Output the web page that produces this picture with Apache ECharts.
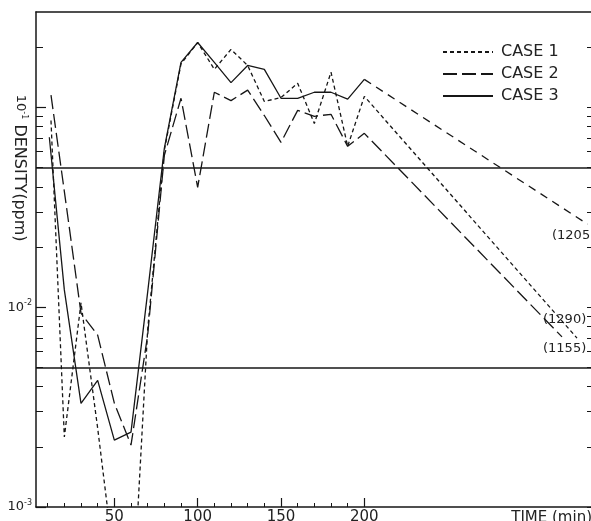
<!DOCTYPE html>
<html>
<head>
<meta charset="utf-8">
<script src="https://cdn.jsdelivr.net/npm/echarts@6/dist/echarts.min.js"></script>
<style>
html, body { margin: 0; padding: 0; background: #fff; }
#chart { width: 591px; height: 521px; }
</style>
</head>
<body>
<div id="chart"></div>
<script>
// time axis is broken after 200 min: the last points sit at the right edge
let case1Time = [12, 20, 30, 40, 50, 60, 70, 80, 90, 100, 110, 120, 130, 140, 150, 160, 170, 180, 190, 200, 327.6];
let case1Val = [0.086, 0.00224, 0.0105, 0.00248, 0.00052, 0.00023, 0.0077, 0.061, 0.165, 0.211, 0.155, 0.195, 0.162, 0.107, 0.112, 0.132, 0.083, 0.150, 0.0638, 0.1135, 0.0070];

let case2Time = [12, 20, 30, 40, 50, 60, 70, 80, 90, 100, 110, 120, 130, 140, 150, 160, 170, 180, 190, 200, 318.6];
let case2Val = [0.115, 0.038, 0.00933, 0.00724, 0.00331, 0.00204, 0.00724, 0.0575, 0.111, 0.0398, 0.119, 0.108, 0.122, 0.091, 0.0668, 0.0966, 0.0902, 0.0923, 0.0638, 0.0741, 0.0071];

let case3Time = [11, 20, 30, 40, 50, 60, 70, 80, 90, 100, 110, 120, 130, 140, 150, 160, 170, 180, 190, 200];
let case3Val = [0.0708, 0.0122, 0.0033, 0.0043, 0.00216, 0.00237, 0.0119, 0.0624, 0.168, 0.211, 0.168, 0.133, 0.162, 0.155, 0.111, 0.111, 0.119, 0.119, 0.110, 0.138];
// case 3 after 200 min (drawn dashed)
let case3ExtTime = [200, 334];
let case3ExtVal = [0.138, 0.026];

let endLabels = ['(1205)', '(1290)', '(1155)'];
let refLevels = [0.05, 0.005];

let xMajor = [50, 100, 150, 200];
let xMinor = [10, 20, 30, 40, 60, 70, 80, 90, 110, 120, 130, 140, 160, 170, 180, 190];
let yDecades = [0.001, 0.01, 0.1];
let yMinorSteps = [2, 3, 4, 5, 6, 7, 8, 9];

let xMin = 3, xMax = 336.6;
let yMin = 0.001, yMax = 0.3;

function pairs(t, v) {
    return t.map(function (x, i) { return [x, v[i]]; });
}

// tick positions in log10 space for the helper axes
let yMajorLog = yDecades.map(function (d) { return Math.round(Math.log10(d)); });
let yMinorLog = [];
yDecades.forEach(function (d) {
    yMinorSteps.forEach(function (m) {
        if (d * m <= yMax + 1e-9) yMinorLog.push(Math.log10(d * m));
    });
});
let yAllLog = yMajorLog.concat(yMinorLog);

let ink = '#161616';
let font = '"DejaVu Sans", sans-serif';

let myChart = echarts.init(document.getElementById('chart'));

let lineBase = { color: ink, width: 1.3 };

let option = {
    animation: false,
    backgroundColor: '#fff',
    grid: { left: 36, top: 12, right: -1, bottom: 14, containLabel: false, outerBoundsMode: 'none' },
    legend: {
        data: ['CASE 1', 'CASE 2', 'CASE 3'],
        orient: 'vertical',
        left: 442,
        top: 44,
        padding: 0,
        itemWidth: 50,
        itemHeight: 14,
        itemGap: 6,
        itemStyle: { opacity: 0 },
        textStyle: { fontFamily: font, fontSize: 16, color: '#222', lineHeight: 14, padding: [0, 0, 0, 3] }
    },
    xAxis: [{
        type: 'value', min: xMin, max: xMax, position: 'bottom',
        axisLine: { lineStyle: { color: ink, width: 1.5 } },
        axisTick: { inside: true, length: 9, customValues: xMajor, lineStyle: { color: ink, width: 1.2 } },
        axisLabel: { customValues: xMajor, margin: 3, fontFamily: font, fontSize: 15, color: '#222' },
        splitLine: { show: false },
        name: 'TIME (min)',
        nameLocation: 'end',
        nameGap: 0,
        nameTextStyle: { fontFamily: font, fontSize: 15, color: '#222', align: 'right', verticalAlign: 'top', padding: [4, 0, 0, 0] }
    }, {
        type: 'value', min: xMin, max: xMax, position: 'bottom',
        axisLine: { show: false },
        axisTick: { inside: true, length: 4, customValues: xMinor, lineStyle: { color: ink, width: 1 } },
        axisLabel: { show: false },
        splitLine: { show: false }
    }, {
        type: 'value', min: xMin, max: xMax, position: 'top',
        axisLine: { lineStyle: { color: ink, width: 1.5 } },
        axisTick: { show: false },
        axisLabel: { show: false },
        splitLine: { show: false }
    }],
    yAxis: [{
        type: 'log', logBase: 10, min: yMin, max: yMax, position: 'left',
        axisLine: { lineStyle: { color: ink, width: 1.5 } },
        axisTick: { show: false },
        axisLabel: { show: false },
        splitLine: { show: false }
    }, {
        type: 'value', min: Math.log10(yMin), max: Math.log10(yMax), position: 'left',
        axisLine: { show: false },
        axisTick: { inside: true, length: 10, customValues: yMajorLog, lineStyle: { color: ink, width: 1.2 } },
        axisLabel: {
            customValues: yMajorLog,
            margin: 4,
            formatter: function (v) {
                let e = Math.round(v);
                if (e === -1) return '';
                return '{b|10}{s|' + e + '}';
            },
            rich: {
                b: { fontFamily: font, fontSize: 13, color: '#222', lineHeight: 16 },
                s: { fontFamily: font, fontSize: 8, color: '#222', verticalAlign: 'top', lineHeight: 16 }
            }
        },
        splitLine: { show: false }
    }, {
        type: 'value', min: Math.log10(yMin), max: Math.log10(yMax), position: 'left',
        axisLine: { show: false },
        axisTick: { inside: true, length: 7, customValues: yMinorLog, lineStyle: { color: ink, width: 1 } },
        axisLabel: { show: false },
        splitLine: { show: false }
    }, {
        type: 'value', min: Math.log10(yMin), max: Math.log10(yMax), position: 'right',
        axisLine: { show: false },
        axisTick: { inside: true, length: 5, customValues: yAllLog, lineStyle: { color: ink, width: 1 } },
        axisLabel: { show: false },
        splitLine: { show: false }
    }],
    series: [{
        name: 'CASE 1',
        type: 'line',
        symbol: 'none',
        data: pairs(case1Time, case1Val),
        lineStyle: Object.assign({ type: [4, 3] }, lineBase),
        itemStyle: { color: ink }
    }, {
        name: 'CASE 2',
        type: 'line',
        symbol: 'none',
        data: pairs(case2Time, case2Val),
        lineStyle: Object.assign({ type: [14, 5] }, lineBase),
        itemStyle: { color: ink }
    }, {
        name: 'CASE 3',
        type: 'line',
        symbol: 'none',
        data: pairs(case3Time, case3Val),
        lineStyle: Object.assign({ type: 'solid' }, lineBase),
        itemStyle: { color: ink },
        markLine: {
            silent: true,
            symbol: 'none',
            precision: 4,
            label: { show: false },
            lineStyle: { color: ink, width: 1.5, type: 'solid' },
            data: refLevels.map(function (v) { return { yAxis: v }; })
        }
    }, {
        name: 'CASE 3 (after 200)',
        type: 'line',
        symbol: 'none',
        data: pairs(case3ExtTime, case3ExtVal),
        lineStyle: Object.assign({ type: [8, 6] }, lineBase),
        itemStyle: { color: ink }
    }],
    graphic: [{
        type: 'text', x: 19, y: 183, rotation: -Math.PI / 2,
        style: { text: 'DENSITY(ppm)', font: '16px ' + font, fill: '#222', align: 'center', verticalAlign: 'middle' }
    }, {
        type: 'text', x: 20, y: 107, rotation: -Math.PI / 2,
        style: {
            text: '{b|10}{s|-1}', align: 'center', verticalAlign: 'middle',
            rich: {
                b: { fontFamily: font, fontSize: 13, fill: '#222', lineHeight: 16 },
                s: { fontFamily: font, fontSize: 8, fill: '#222', verticalAlign: 'top', lineHeight: 16 }
            }
        }
    }, {
        type: 'text', x: 552, y: 236,
        style: { text: endLabels[0], font: '13px ' + font, fill: '#222', align: 'left', verticalAlign: 'middle' }
    }, {
        type: 'text', x: 543, y: 320,
        style: { text: endLabels[1], font: '13px ' + font, fill: '#222', align: 'left', verticalAlign: 'middle' }
    }, {
        type: 'text', x: 543, y: 349,
        style: { text: endLabels[2], font: '13px ' + font, fill: '#222', align: 'left', verticalAlign: 'middle' }
    }]
};

myChart.setOption(option);
</script>
</body>
</html>
